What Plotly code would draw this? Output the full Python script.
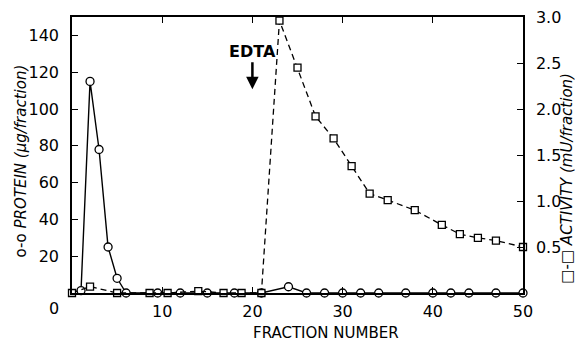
import plotly.graph_objects as go

# Protein (circles, solid line) - left axis, µg/fraction
protein_fraction = [1, 2, 3, 4, 5, 6, 9.5, 12, 15, 18, 21, 24, 26, 28, 30, 32, 34, 37, 40, 42, 44, 47, 50]
protein_values = [1.3, 115, 78, 25, 8, 0, 0, 0, 0, 0, 0, 3.4, 0, 0, 0, 0, 0, 0, 0, 0, 0, 0, 0]

# Activity (squares, dashed line) - right axis, mU/fraction
activity_fraction = [0, 2, 5, 8.6, 10.6, 14, 16.8, 18.8, 21, 23, 25, 27, 29, 31, 33, 35, 38, 41, 43, 45, 47, 50]
activity_values = [0, 0.07, 0, 0, 0, 0.02, 0, 0, 0, 2.96, 2.45, 1.92, 1.68, 1.38, 1.08, 1.01, 0.9, 0.74, 0.64, 0.60, 0.57, 0.50]

x_ticks = [10, 20, 30, 40, 50]
left_ticks = [20, 40, 60, 80, 100, 120, 140]
right_ticks = [0.5, 1.0, 1.5, 2.0, 2.5, 3.0]
right_ticktext = ["0.5", "1.0", "1.5", "2.0", "2.5", "3.0"]

FONT = "DejaVu Sans"

fig = go.Figure()

fig.add_trace(go.Scatter(
    x=activity_fraction, y=activity_values, yaxis="y2",
    mode="lines+markers",
    line=dict(color="black", width=1.3, dash="6px,4px"),
    marker=dict(symbol="square", size=7, color="white", line=dict(color="black", width=1.3)),
    cliponaxis=False, showlegend=False,
))

fig.add_trace(go.Scatter(
    x=protein_fraction, y=protein_values,
    mode="lines+markers",
    line=dict(color="black", width=1.4),
    marker=dict(symbol="circle", size=8, color="white", line=dict(color="black", width=1.3)),
    cliponaxis=False, showlegend=False,
))

axis_common = dict(
    showline=True, linecolor="black", linewidth=1.5,
    ticks="inside", ticklen=6, tickcolor="black", tickwidth=1.3,
    showgrid=False, zeroline=False, automargin=False,
    ticklabeloverflow="allow",
    tickfont=dict(family=FONT, size=16, color="black"),
)

# The page body has an 8px margin, so the figure is sized/offset to compensate.
fig.update_layout(
    width=575, height=335,
    margin=dict(l=64, r=60, t=9, b=50),
    paper_bgcolor="white", plot_bgcolor="white",
    font=dict(family=FONT, color="black"),
    xaxis=dict(range=[0, 50], tickvals=x_ticks, mirror="ticks", ticklabelstandoff=3, **axis_common),
    yaxis=dict(range=[0, 150], tickvals=left_ticks, ticklabelstandoff=8, **axis_common),
    yaxis2=dict(range=[0, 3], tickvals=right_ticks, ticktext=right_ticktext, overlaying="y",
                side="right", ticklabelstandoff=8, **axis_common),
)

annotations = [
    # "0" label of the x axis, drawn left of the origin as in the original
    dict(x=-0.04, y=0, xref="paper", yref="paper", text="0", showarrow=False,
         xanchor="center", yanchor="top", yshift=-4, font=dict(family=FONT, size=16)),
    # x axis title
    dict(x=28.2, y=-0.105, xref="x", yref="paper", text="FRACTION NUMBER", showarrow=False,
         xanchor="center", yanchor="top", font=dict(family=FONT, size=15)),
    # left axis title
    dict(x=-0.112, y=0.478, xref="paper", yref="paper", textangle=-90, showarrow=False,
         xanchor="center", yanchor="middle",
         text="o-o <i>PROTEIN (μg/fraction)</i>", font=dict(family=FONT, size=15)),
    # right axis title
    dict(x=1.098, y=0.415, xref="paper", yref="paper", textangle=-90, showarrow=False,
         xanchor="center", yanchor="middle",
         text="□-□ <i>ACTIVITY (mU/fraction)</i>", font=dict(family=FONT, size=15)),
    # EDTA arrow
    dict(x=20, y=110.7, xref="x", yref="y", text="<b>EDTA</b>", showarrow=True,
         ax=0, ay=-38, arrowhead=2, arrowsize=1, arrowwidth=2.5, arrowcolor="black",
         standoff=0, font=dict(family=FONT, size=16)),
]
fig.update_layout(annotations=annotations)

fig.write_html("out.html")
